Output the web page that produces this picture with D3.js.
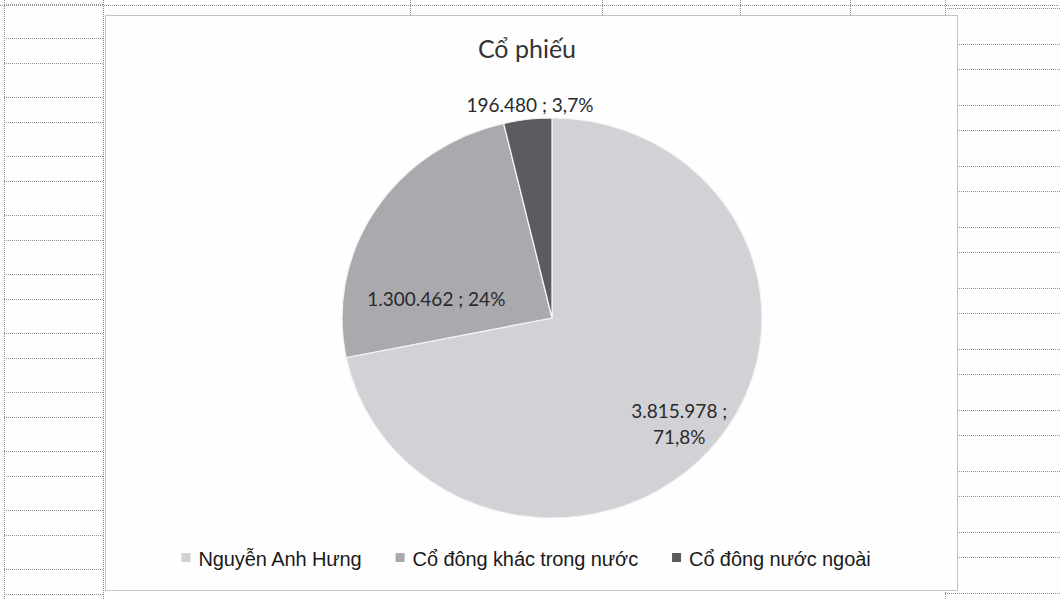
<!DOCTYPE html>
<html>
<head>
<meta charset="utf-8">
<script src="https://cdn.jsdelivr.net/npm/d3@7"></script>
<style>
  body { margin: 0; background: #fdfdfd; }
  svg { display: block; }
</style>
</head>
<body>
<div id="chart"></div>
<script>
// chart data
var title = "Cổ phiếu";
var categories = ["Nguyễn Anh Hưng", "Cổ đông khác trong nước", "Cổ đông nước ngoài"];
var values = [3815978, 1300462, 196480];
var valueLabels = ["3.815.978", "1.300.462", "196.480"];
var percentLabels = ["71,8%", "24%", "3,7%"];

var width = 1060;
var height = 599;

var cx = 552, cy = 318, r = 200;
var xStretch = 1.05; // the scan is a bit wider than tall

var color = d3.scaleOrdinal()
  .domain(categories)
  .range(["#d2d2d6", "#a9a9ae", "#5b5b60"]);

var svg = d3.select("#chart").append("svg")
  .attr("width", width)
  .attr("height", height);

// spreadsheet grid behind the chart
var grid = svg.append("g")
  .attr("stroke", "#8f8f8f")
  .attr("stroke-width", 1)
  .attr("stroke-dasharray", "1,1")
  .attr("fill", "none");

grid.append("line").attr("x1", 0).attr("x2", width).attr("y1", 5.5).attr("y2", 5.5);
[4.5, 103.5, 945.5].forEach(function(x){
  grid.append("line").attr("x1", x).attr("x2", x).attr("y1", 0).attr("y2", height);
});
[410.5, 602.5, 740.5, 850.5].forEach(function(x){
  grid.append("line").attr("x1", x).attr("x2", x).attr("y1", 0).attr("y2", 15);
});

// rows alternate tall / short
var rowsLeft = [], y = 4;
var i = 0;
while (y < height) { rowsLeft.push(y); y += (i % 2 == 0) ? 34 : 25; i++; }
rowsLeft.forEach(function(yy){
  grid.append("line").attr("x1", 4).attr("x2", 103).attr("y1", yy + 0.5).attr("y2", yy + 0.5);
});
var rowsRight = []; y = 8; i = 0;
while (y < height) { rowsRight.push(y); y += (i % 2 == 0) ? 36 : 25; i++; }
rowsRight.forEach(function(yy){
  grid.append("line").attr("x1", 945).attr("x2", width).attr("y1", yy + 0.5).attr("y2", yy + 0.5);
});

// chart area
svg.append("rect")
  .attr("x", 105.5).attr("y", 15.5)
  .attr("width", 852).attr("height", 575)
  .attr("fill", "#fefefe")
  .attr("stroke", "#8a8a8a")
  .attr("stroke-dasharray", "1,1");

svg.append("text")
  .attr("x", 527).attr("y", 58)
  .attr("text-anchor", "middle")
  .attr("font-family", "Lato, 'Open Sans', sans-serif")
  .attr("font-size", 25)
  .attr("fill", "#333")
  .text(title);

// pie
var pie = d3.pie().sort(null).value(function(d){ return d; });
var arcs = pie(values);
var arc = d3.arc().innerRadius(0).outerRadius(r);

svg.append("g")
  .attr("transform", "translate(" + cx + "," + cy + ") scale(" + xStretch + ",1)")
  .selectAll("path")
  .data(arcs).enter()
  .append("path")
  .attr("d", arc)
  .attr("fill", function(d, i){ return color(categories[i]); })
  .attr("stroke", "#f4f4f4")
  .attr("stroke-width", 1.2);

// data labels: radius factor + small nudges like Excel's best fit
var labelArc = [0.82, 0.62, 1.07];
var labelNudge = [[-6, 2], [-6, 48], [4, 0]];
var labelSplit = [true, false, false];

arcs.forEach(function(d, i){
  var a = (d.startAngle + d.endAngle) / 2;
  var lx = cx + Math.sin(a) * r * labelArc[i] * xStretch + labelNudge[i][0];
  var ly = cy - Math.cos(a) * r * labelArc[i] + labelNudge[i][1];
  var t = svg.append("text")
    .attr("text-anchor", "middle")
    .attr("font-family", "Lato, 'Open Sans', sans-serif")
    .attr("font-size", 19)
    .attr("fill", "#2a2a2a");
  if (labelSplit[i]) {
    t.append("tspan").attr("x", lx).attr("y", ly - 6).text(valueLabels[i] + " ;");
    t.append("tspan").attr("x", lx).attr("y", ly + 20).text(percentLabels[i]);
  } else {
    t.attr("x", lx).attr("y", ly + 7).text(valueLabels[i] + " ; " + percentLabels[i]);
  }
});

// legend
var legend = svg.append("g");
var items = legend.selectAll("g")
  .data(categories).enter()
  .append("g");
items.append("rect")
  .attr("y", 553).attr("width", 9).attr("height", 9)
  .attr("fill", function(d){ return color(d); });
items.append("text")
  .attr("x", 17).attr("y", 566)
  .attr("font-family", "'Liberation Sans', Arial, sans-serif")
  .attr("font-size", 20)
  .attr("letter-spacing", -0.1)
  .attr("fill", "#1a1a1a")
  .text(function(d){ return d; });

var widths = [];
items.select("text").each(function(){ widths.push(this.getComputedTextLength() + 17); });
var gap = 34;
var total = d3.sum(widths) + gap * (widths.length - 1);
var startX = 526 - total / 2;
items.attr("transform", function(d, i){
  return "translate(" + (startX + d3.sum(widths.slice(0, i)) + gap * i) + ",0)";
});
</script>
</body>
</html>
